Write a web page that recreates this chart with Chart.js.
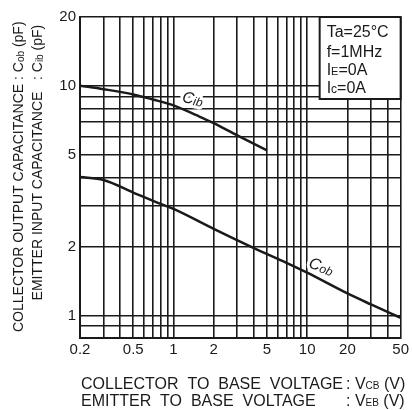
<!DOCTYPE html>
<html>
<head>
<meta charset="utf-8">
<script src="https://cdn.jsdelivr.net/npm/chart.js@4.4.1/dist/chart.umd.min.js"></script>
<style>
  html, body { margin: 0; padding: 0; background: #fff; }
  #wrap { width: 412px; height: 410px; }
</style>
</head>
<body>
<div id="wrap"><canvas id="chart" width="412" height="410"></canvas></div>
<script>
// Cob (pF) vs collector to base voltage (V)
const vcb = [0.2, 0.3, 0.5, 0.8, 1, 2, 4, 7, 10, 20, 30, 50];
const cob = [4.02, 3.9, 3.44, 3.07, 2.92, 2.39, 1.97, 1.70, 1.54, 1.25, 1.12, 0.98];

// Cib (pF) vs emitter to base voltage (V)
const veb = [0.2, 0.3, 0.5, 0.7, 1, 1.5, 2, 3, 5];
const cib = [10.05, 9.7, 9.2, 8.75, 8.25, 7.45, 6.9, 6.1, 5.25];

// grid lines and tick labels
const xGrid = [0.2, 0.3, 0.4, 0.5, 0.6, 0.7, 0.8, 0.9, 1, 2, 3, 4, 5, 6, 7, 8, 9, 10, 20, 30, 40, 50];
const xLabels = [0.2, 0.5, 1, 2, 5, 10, 20, 50];
const yGrid = [0.9, 1, 2, 3, 4, 5, 6, 7, 8, 9, 10, 20];
const yLabels = [1, 2, 5, 10, 20];

const FONT = "'Liberation Sans', Arial, sans-serif";
const INK = '#1a1a1a';

const hasLabel = (list, v) => list.some(l => Math.abs(l - v) < 1e-9);

function runs(ctx, parts, x, y) {
  let cx = x;
  parts.forEach(p => {
    ctx.font = p.f;
    ctx.fillText(p.t, cx, y + (p.dy || 0));
    cx += ctx.measureText(p.t).width;
  });
  return cx;
}

function runsWidth(ctx, parts) {
  let w = 0;
  parts.forEach(p => { ctx.font = p.f; w += ctx.measureText(p.t).width; });
  return w;
}

function curveLabel(ctx, parts, x, y, angle) {
  ctx.save();
  ctx.translate(x, y);
  ctx.rotate(angle * Math.PI / 180);
  ctx.textBaseline = 'middle';
  const w = runsWidth(ctx, parts);
  // white halo, like the gap in the grid under the label
  ctx.strokeStyle = '#fff';
  ctx.lineWidth = 6;
  ctx.lineJoin = 'round';
  let cx = -w / 2;
  parts.forEach(p => {
    ctx.font = p.f;
    ctx.strokeText(p.t, cx, p.dy || 0);
    cx += ctx.measureText(p.t).width;
  });
  ctx.fillStyle = INK;
  runs(ctx, parts, -w / 2, 0);
  ctx.restore();
}

const overlay = {
  id: 'overlay',
  beforeDatasetsDraw(chart) {
    const ctx = chart.ctx;
    const xs = chart.scales.x, ys = chart.scales.y;
    curveLabel(ctx, [
      { t: 'C', f: 'italic 16px ' + FONT },
      { t: 'ib', f: 'italic 12px ' + FONT, dy: 2 }
    ], xs.getPixelForValue(1.39), ys.getPixelForValue(8.74), 12);
    curveLabel(ctx, [
      { t: 'C', f: 'italic 16px ' + FONT },
      { t: 'ob', f: 'italic 12px ' + FONT, dy: 2 }
    ], xs.getPixelForValue(12.7), ys.getPixelForValue(1.63), 20);
  },
  afterDraw(chart) {
    const ctx = chart.ctx;
    const ca = chart.chartArea;
    ctx.save();
    ctx.fillStyle = INK;
    ctx.textBaseline = 'alphabetic';

    // conditions box
    const bx = ca.right - 81, by = ca.top, bw = 81, bh = 82;
    ctx.fillStyle = '#fff';
    ctx.fillRect(bx, by, bw, bh);
    ctx.strokeStyle = INK;
    ctx.lineWidth = 2;
    ctx.strokeRect(bx, by, bw, bh);
    ctx.fillStyle = INK;
    const f16 = '16px ' + FONT;
    const tx = bx + 7;
    runs(ctx, [{ t: 'Ta=25°C', f: f16 }], tx, by + 20);
    runs(ctx, [{ t: 'f=1MHz', f: f16 }], tx, by + 39.5);
    runs(ctx, [{ t: 'I', f: f16 }, { t: 'E', f: '11px ' + FONT }, { t: '=0A', f: f16 }], tx, by + 58);
    runs(ctx, [{ t: 'I', f: f16 }, { t: 'c', f: '12px ' + FONT }, { t: '=0A', f: f16 }], tx, by + 76);

    // x axis title, two lines with aligned colons
    const colX = ca.left + 266;
    runs(ctx, [{ t: 'COLLECTOR  TO  BASE  VOLTAGE', f: f16 }], ca.left + 1, ca.bottom + 51);
    runs(ctx, [{ t: ': V', f: f16 }, { t: 'CB', f: '10px ' + FONT }, { t: ' (V)', f: f16 }], colX, ca.bottom + 51);
    runs(ctx, [{ t: 'EMITTER  TO  BASE  VOLTAGE', f: f16 }], ca.left + 1, ca.bottom + 68);
    runs(ctx, [{ t: ': V', f: f16 }, { t: 'EB', f: '10px ' + FONT }, { t: ' (V)', f: f16 }], colX, ca.bottom + 68);

    // y axis title, rotated, two lines with aligned colons
    const f14 = '14px ' + FONT;
    const colY = ca.top + 63;
    const yLines = [
      { base: ca.left - 57, left: 'COLLECTOR OUTPUT CAPACITANCE ', sub: 'ob' },
      { base: ca.left - 38, left: 'EMITTER INPUT CAPACITANCE   ', sub: 'ib' }
    ];
    yLines.forEach(l => {
      ctx.save();
      ctx.translate(l.base, colY);
      ctx.rotate(-Math.PI / 2);
      ctx.font = f14;
      const lw = ctx.measureText(l.left).width;
      runs(ctx, [{ t: l.left, f: f14 }], -lw, 0);
      runs(ctx, [
        { t: ': C', f: f14 },
        { t: l.sub, f: '10px ' + FONT, dy: 1 },
        { t: ' (pF)', f: f14 }
      ], 0, 0);
      ctx.restore();
    });
    ctx.restore();
  }
};

new Chart(document.getElementById('chart'), {
  type: 'line',
  data: {
    datasets: [
      {
        label: 'Cob',
        data: vcb.map((v, i) => ({ x: v, y: cob[i] })),
        borderColor: INK,
        borderWidth: 2.5,
        pointRadius: 0,
        cubicInterpolationMode: 'monotone',
        fill: false
      },
      {
        label: 'Cib',
        data: veb.map((v, i) => ({ x: v, y: cib[i] })),
        borderColor: INK,
        borderWidth: 2.5,
        pointRadius: 0,
        cubicInterpolationMode: 'monotone',
        fill: false
      }
    ]
  },
  options: {
    responsive: false,
    animation: false,
    events: [],
    layout: { padding: { left: 0, top: 17, right: 10, bottom: 0 } },
    plugins: {
      legend: { display: false },
      tooltip: { enabled: false }
    },
    scales: {
      x: {
        type: 'logarithmic',
        min: 0.2,
        max: 50,
        afterBuildTicks: s => { s.ticks = xGrid.map(v => ({ value: v })); },
        afterFit: s => { s.height = 72; },
        ticks: {
          autoSkip: false,
          maxRotation: 0,
          padding: 3,
          color: INK,
          font: { family: FONT, size: 15 },
          callback: v => hasLabel(xLabels, v) ? String(v) : ''
        },
        grid: { color: INK, lineWidth: 1.6, drawTicks: false },
        border: { display: true, color: INK, width: 2 }
      },
      y: {
        type: 'logarithmic',
        min: 0.8,
        max: 20,
        afterBuildTicks: s => { s.ticks = yGrid.map(v => ({ value: v })); },
        afterFit: s => { s.width = 80; },
        ticks: {
          autoSkip: false,
          padding: 4,
          color: INK,
          font: { family: FONT, size: 15 },
          callback: v => hasLabel(yLabels, v) ? String(v) : ''
        },
        grid: { color: INK, lineWidth: 1.6, drawTicks: false },
        border: { display: true, color: INK, width: 2 }
      }
    }
  },
  plugins: [overlay]
});
</script>
</body>
</html>
